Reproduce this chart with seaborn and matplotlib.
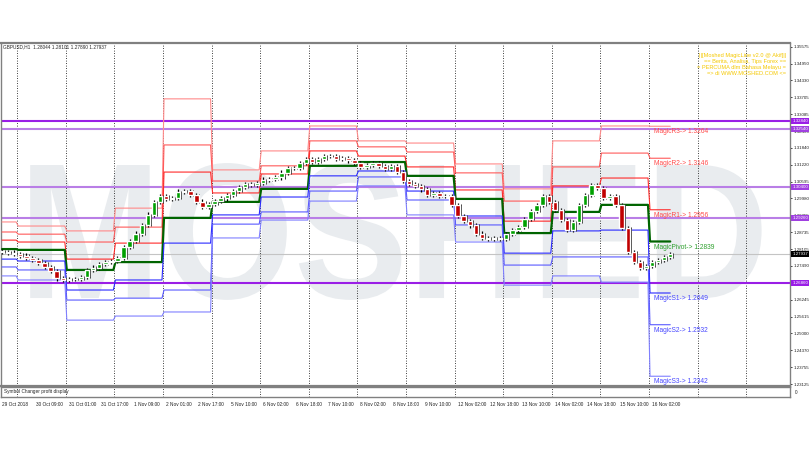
import numpy as np
import pandas as pd
import seaborn as sns
import matplotlib
matplotlib.use('Agg')
import matplotlib.pyplot as plt
from matplotlib.textpath import TextPath
from matplotlib.patches import PathPatch
from matplotlib.font_manager import FontProperties
from matplotlib.transforms import Affine2D

sns.set_style('white')
plt.rcParams['font.family'] = ['Liberation Sans', 'DejaVu Sans']

# GBPUSD H1, closes every 3 bars (29 Oct 16:00 .. 16 Nov 10:00)
closes = [1.2800, 1.2798, 1.2794, 1.2787, 1.2779, 1.2770, 1.2759, 1.2745, 1.2729, 1.2703,
          1.2696, 1.2700, 1.2700, 1.2708, 1.2733, 1.2743, 1.2755, 1.2763, 1.2766, 1.2777,
          1.2819, 1.2840, 1.2868, 1.2900, 1.2938, 1.2985, 1.3007, 1.2996, 1.2999, 1.3023,
          1.3024, 1.3011, 1.2986, 1.2966, 1.2977, 1.2988, 1.2998, 1.3010, 1.3024, 1.3041,
          1.3052, 1.3049, 1.3055, 1.3067, 1.3070, 1.3075, 1.3093, 1.3110, 1.3110, 1.3128,
          1.3144, 1.3132, 1.3142, 1.3154, 1.3154, 1.3142, 1.3147, 1.3138, 1.3128, 1.3115,
          1.3122, 1.3128, 1.3117, 1.3106, 1.3118, 1.3096, 1.3062, 1.3051, 1.3044, 1.3031,
          1.3010, 1.3019, 1.3006, 1.3006, 1.2974, 1.2933, 1.2915, 1.2898, 1.2868, 1.2852,
          1.2847, 1.2853, 1.2849, 1.2867, 1.2881, 1.2893, 1.2921, 1.2951, 1.2974, 1.3007,
          1.2985, 1.2955, 1.2918, 1.2881, 1.2911, 1.2974, 1.3010, 1.3048, 1.3036, 1.2999,
          1.3007, 1.2974, 1.2889, 1.2800, 1.2763, 1.2741, 1.2748, 1.2763, 1.2770, 1.2782,
          1.2794]
bars_per_close = 3
last_ohlc = [1.28044, 1.28101, 1.27890, 1.27937]

# daily MagicLine levels (one value per trading day shown)
day_lengths = [8] + [24] * 13 + [11]
magic_r3 = [1.2911, 1.2896, 1.2878, 1.2962, 1.3365, 1.3103, 1.3173, 1.3265, 1.3210, 1.3202, 1.3125, 1.3033, 1.3210, 1.3265, 1.3264]
magic_r2 = [1.2874, 1.2866, 1.2837, 1.2892, 1.3195, 1.3062, 1.3118, 1.3210, 1.3188, 1.3169, 1.3092, 1.2988, 1.3114, 1.3165, 1.3146]
magic_r1 = [1.2844, 1.2837, 1.2774, 1.2833, 1.3095, 1.3018, 1.3088, 1.3173, 1.3154, 1.3114, 1.3029, 1.2914, 1.3044, 1.3073, 1.2956]
magic_pv = [1.2811, 1.2808, 1.2734, 1.2763, 1.2926, 1.2985, 1.3033, 1.3118, 1.3132, 1.3081, 1.2996, 1.2870, 1.2948, 1.2974, 1.2839]
magic_s1 = [1.2774, 1.2767, 1.2660, 1.2697, 1.2833, 1.2937, 1.3003, 1.3081, 1.3099, 1.3025, 1.2933, 1.2796, 1.2878, 1.2881, 1.2649]
magic_s2 = [1.2745, 1.2734, 1.2623, 1.2630, 1.2660, 1.2903, 1.2948, 1.3025, 1.3077, 1.2992, 1.2900, 1.2752, 1.2782, 1.2782, 1.2532]
magic_s3 = [1.2712, 1.2697, 1.2549, 1.2564, 1.2579, 1.2852, 1.2918, 1.2988, 1.3044, 1.2937, 1.2837, 1.2678, 1.2712, 1.2689, 1.2342]

# horizontal price lines
hlines = [1.3284, 1.3254, 1.3040, 1.2926, 1.2686]
hline_strong = [True, False, False, False, True]

price_ticks = [1.23125, 1.23755, 1.24370, 1.25000, 1.25615, 1.26245, 1.26860, 1.27490, 1.28105,
               1.28735, 1.29355, 1.29980, 1.30595, 1.31220, 1.31840, 1.32460, 1.33085, 1.33705,
               1.34330, 1.34950, 1.35575]

time_bars = [0, 17, 33, 49, 65, 81, 97, 113, 129, 145, 161, 177, 193, 209, 225, 241, 257, 273, 289, 305, 321]
time_labels = ['29 Oct 2018', '30 Oct 09:00', '31 Oct 01:00', '31 Oct 17:00', '1 Nov 09:00',
               '2 Nov 01:00', '2 Nov 17:00', '5 Nov 10:00', '6 Nov 02:00', '6 Nov 18:00',
               '7 Nov 10:00', '8 Nov 02:00', '8 Nov 18:00', '9 Nov 10:00', '12 Nov 02:00',
               '12 Nov 18:00', '13 Nov 10:00', '14 Nov 02:00', '14 Nov 18:00', '15 Nov 10:00',
               '16 Nov 02:00']

info_lines = ['||[Moshed MagicLine v2.0 @ Akif]||', '== Berita, Analisa, Tips Forex ==',
              '= PERCUMA dlm Bahasa Melayu =', '=> di WWW.MOSHED.COM <=']

W, H = 810, 450


def fbox(x0, y0, x1, y1):
    return [x0 / W, 1 - y1 / H, (x1 - x0) / W, (y1 - y0) / H]


fig = plt.figure(figsize=(8.1, 4.5), dpi=100)
ax = fig.add_axes(fbox(1, 43, 790, 386))
sub = fig.add_axes(fbox(1, 387, 790, 397))

xmax = -0.5 + 789 / 2.025
for a in (ax, sub):
    a.set_xlim(-0.5, xmax)
    for s in a.spines.values():
        s.set_color('#808080')
        s.set_linewidth(1.0)
ax.spines['top'].set_linewidth(1.6)
ax.spines['bottom'].set_linewidth(1.6)
ax.set_ylim(1.2306, 1.3571)

# watermark
tp = TextPath((0, 0), 'MOSHED', size=100, prop=FontProperties(family='Liberation Sans', weight='bold'))
bb = tp.get_extents()
x0, x1, y0, y1 = 0.037, 0.964, 0.251, 0.650
tr = Affine2D().translate(-bb.x0, -bb.y0).scale((x1 - x0) / bb.width, (y1 - y0) / bb.height).translate(x0, y0)
ax.add_patch(PathPatch(tr.transform_path(tp), transform=ax.transAxes, fc='#e9ecef', ec='none', zorder=0))

# vertical day grid
for k in range(16):
    for a in (ax, sub):
        a.axvline(7.5 + 24 * k, color='black', lw=0.6, ls=(0, (1, 2)), zorder=1)

# bid line + horizontal lines
ax.axhline(last_ohlc[3], color='#c4c4c4', lw=0.8, zorder=2)
for lvl, strong in zip(hlines, hline_strong):
    ax.axhline(lvl, color='#9a1ee6' if strong else '#b97ee6', lw=1.5, zorder=2)

# MagicLine levels
bars = np.arange(sum(day_lengths))
level_styles = [(magic_r3, '#ff8a8a', 0.8), (magic_r2, '#ff5a5a', 0.8), (magic_r1, '#ff2a2a', 0.8),
                (magic_pv, '#006400', 1.6),
                (magic_s1, '#2a2aff', 0.8), (magic_s2, '#5a5aff', 0.8), (magic_s3, '#8080ff', 0.8)]
for vals, col, lw in level_styles:
    sns.lineplot(x=bars, y=np.repeat(vals, day_lengths), ax=ax, color=col, lw=lw, zorder=3)

# candles
df = pd.DataFrame({'x': np.arange(len(closes)) * bars_per_close, 'close': closes})
df['open'] = df['close'].shift(1).fillna(last_ohlc[0])
df['lo'] = df[['open', 'close']].min(axis=1)
df['hi'] = df[['open', 'close']].max(axis=1)
ax.vlines(df['x'], df['lo'] - 0.0008, df['hi'] + 0.0008, color='black', lw=0.9, zorder=4)
ax.vlines(df['x'] + 1.5, df['lo'] - 0.0004, df['hi'] + 0.0004, color='#333333', lw=0.7, zorder=4)
ax.bar(df['x'], (df['hi'] - df['lo']).clip(lower=0.00015), bottom=df['lo'], width=2.2,
       color=np.where(df['close'] >= df['open'], '#00a000', '#c00000'), zorder=5)

# level labels
lx = 322
label_specs = [('MagicR3', magic_r3[-1], '#ff4c4c'), ('MagicR2', magic_r2[-1], '#ff4c4c'),
               ('MagicR1', magic_r1[-1], '#ff4c4c'), ('MagicPivot', magic_pv[-1], '#2ea02e'),
               ('MagicS1', magic_s1[-1], '#4848ff'), ('MagicS2', magic_s2[-1], '#4848ff'),
               ('MagicS3', magic_s3[-1], '#4848ff')]
for name, v, col in label_specs:
    ax.annotate(f'{name}-> {v:.4f}', (lx, v), xytext=(0, -1.5), textcoords='offset points',
                color=col, fontsize=4.8, va='top', ha='left', zorder=6)

# right price axis
ax.yaxis.tick_right()
ax.set_yticks(price_ticks)
ax.set_yticklabels([f'{t:.5f}' for t in price_ticks])
ax.tick_params(axis='y', labelsize=3.2, length=1.5, width=0.6, pad=0.8, colors='#202020')
ax.set_xticks([])
ytr = ax.get_yaxis_transform()
for lvl, strong in zip(hlines, hline_strong):
    ax.text(1.003, lvl, f'{lvl:.5f}', transform=ytr, fontsize=3.2, color='white', va='center', ha='left',
            bbox=dict(boxstyle='square,pad=0.25', fc='#9a1ee6' if strong else '#a040e0', ec='none'), clip_on=False)
ax.text(1.003, last_ohlc[3], f'{last_ohlc[3]:.5f}', transform=ytr, fontsize=3.2, color='white', va='center',
        ha='left', bbox=dict(boxstyle='square,pad=0.25', fc='black', ec='none'), clip_on=False)

# texts
fig.text(3 / W, 1 - 47 / H, 'GBPUSD,H1  ' + ' '.join(f'{v:.5f}' for v in last_ohlc),
         fontsize=3.4, va='center', ha='left')
for i, line in enumerate(info_lines):
    fig.text(786 / W, 1 - (55 + 6.2 * i) / H, line, fontsize=4.1, color='#f5c800', ha='right', va='center')

# sub window
sub.set_ylim(0, 1)
sub.set_yticks([])
sub.text(0.004, 0.5, 'Symbol Changer profit display', transform=sub.transAxes, fontsize=3.4, va='center')
sub.text(1.006, 0.5, '0', transform=sub.transAxes, fontsize=3.4, va='center')
sub.set_xticks(time_bars)
sub.set_xticklabels(time_labels, ha='left')
sub.tick_params(axis='x', labelsize=3.4, length=2, width=0.6, pad=1.5, colors='#202020')

fig.savefig('out.png', dpi=100)
